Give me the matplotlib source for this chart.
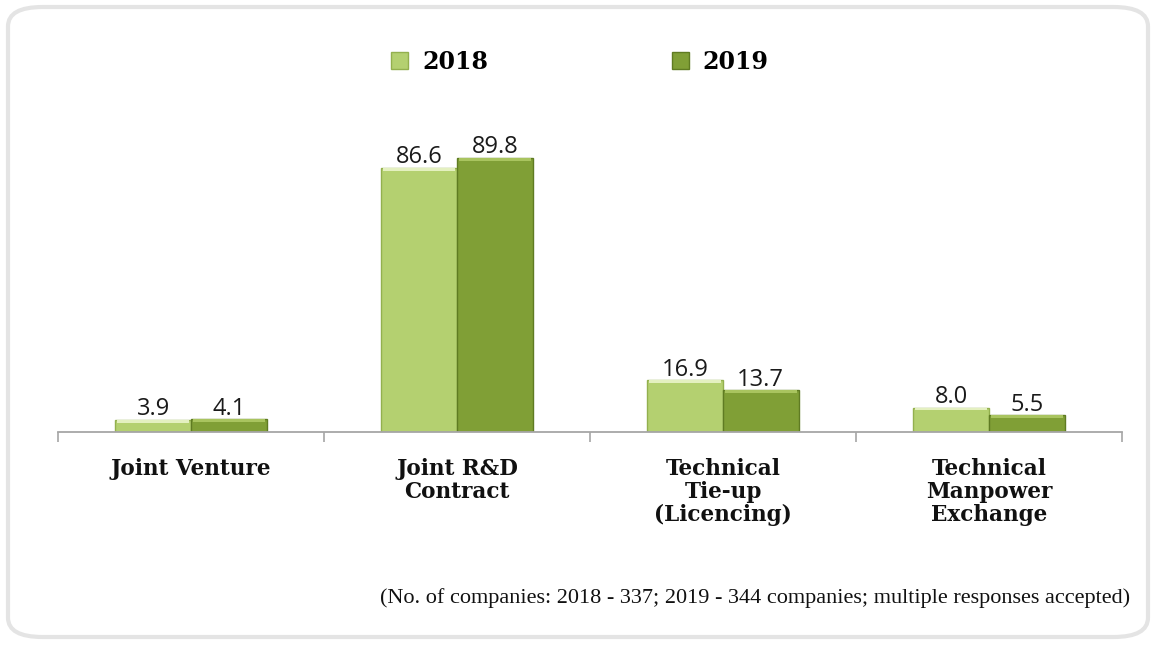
import matplotlib.pyplot as plt
from matplotlib.patches import FancyBboxPatch, Patch
import numpy as np

categories = ["Joint Venture", "Joint R&D\nContract", "Technical\nTie-up\n(Licencing)",
              "Technical\nManpower\nExchange"]
years = ["2018", "2019"]
values_2018 = [3.9, 86.6, 16.9, 8.0]
values_2019 = [4.1, 89.8, 13.7, 5.5]
note = "(No. of companies: 2018 - 337; 2019 - 344 companies; multiple responses accepted)"

colors = ["#b4d070", "#809f36"]
edges = ["#93b04e", "#5f7b22"]

fig = plt.figure(figsize=(11.55, 6.45), dpi=100)

# rounded grey frame around the whole chart
frame = FancyBboxPatch((8 / 1155, 8 / 645), 1140 / 1155, 630 / 645,
                       boxstyle="round,pad=0,rounding_size=0.03",
                       transform=fig.transFigure, facecolor="none",
                       edgecolor="#e4e4e4", linewidth=3.0, zorder=-1)
fig.patches.append(frame)

ax = fig.add_axes([58 / 1155, (645 - 432) / 645, 1064 / 1155, 305 / 645])
ax.set_facecolor("none")

x = np.arange(len(categories))
w = 0.284
series = [values_2018, values_2019]
for i, vals in enumerate(series):
    pos = x + (i - 0.5) * w
    bars = ax.bar(pos, vals, width=w, color=colors[i], edgecolor=edges[i],
                  linewidth=1.0, zorder=2)
    # lighter strip along the top of each bar
    ax.bar(pos, [0.9] * len(vals), bottom=[v - 0.9 for v in vals], width=w * 0.96,
           color="#e4f0c0" if i == 0 else "#a9c45f", linewidth=0, zorder=3)
    for b, v in zip(bars, vals):
        ax.annotate(f"{v:.1f}", (b.get_x() + b.get_width() / 2, v),
                    xytext=(0, -1), textcoords="offset points",
                    ha="center", va="bottom", fontsize=17,
                    family="Open Sans", color="#1a1a1a")

ax.set_xlim(-0.5, len(categories) - 0.5)
ax.set_ylim(0, 100)
for s in ["top", "right", "left"]:
    ax.spines[s].set_visible(False)
ax.spines["bottom"].set_color("#a6a6a6")
ax.spines["bottom"].set_linewidth(1.3)
ax.set_yticks([])
ax.set_xticks(np.arange(-0.5, len(categories), 1.0))
ax.set_xticklabels([])
ax.tick_params(axis="x", direction="out", length=7, width=1.2, color="#a6a6a6")

for xi, label in zip(x, categories):
    ax.text(xi, -8.5, label, ha="center", va="top", fontsize=15.5,
            family="DejaVu Serif", fontweight="bold", linespacing=1.06,
            color="#111111")

handles = [Patch(facecolor=colors[i], edgecolor=edges[i], label=years[i])
           for i in range(2)]
fig.legend(handles=handles, loc="center", bbox_to_anchor=(580 / 1155, 1 - 62 / 645),
           ncol=2, frameon=False, handlelength=0.7, handleheight=0.7,
           handletextpad=0.6, columnspacing=7.8,
           prop={"family": "DejaVu Serif", "weight": "bold", "size": 17})

fig.text(1130 / 1155, 1 - 598 / 645, note, ha="right", va="center",
         fontsize=16, family="Liberation Serif", color="#111111")

fig.savefig("out.png", dpi=100)
